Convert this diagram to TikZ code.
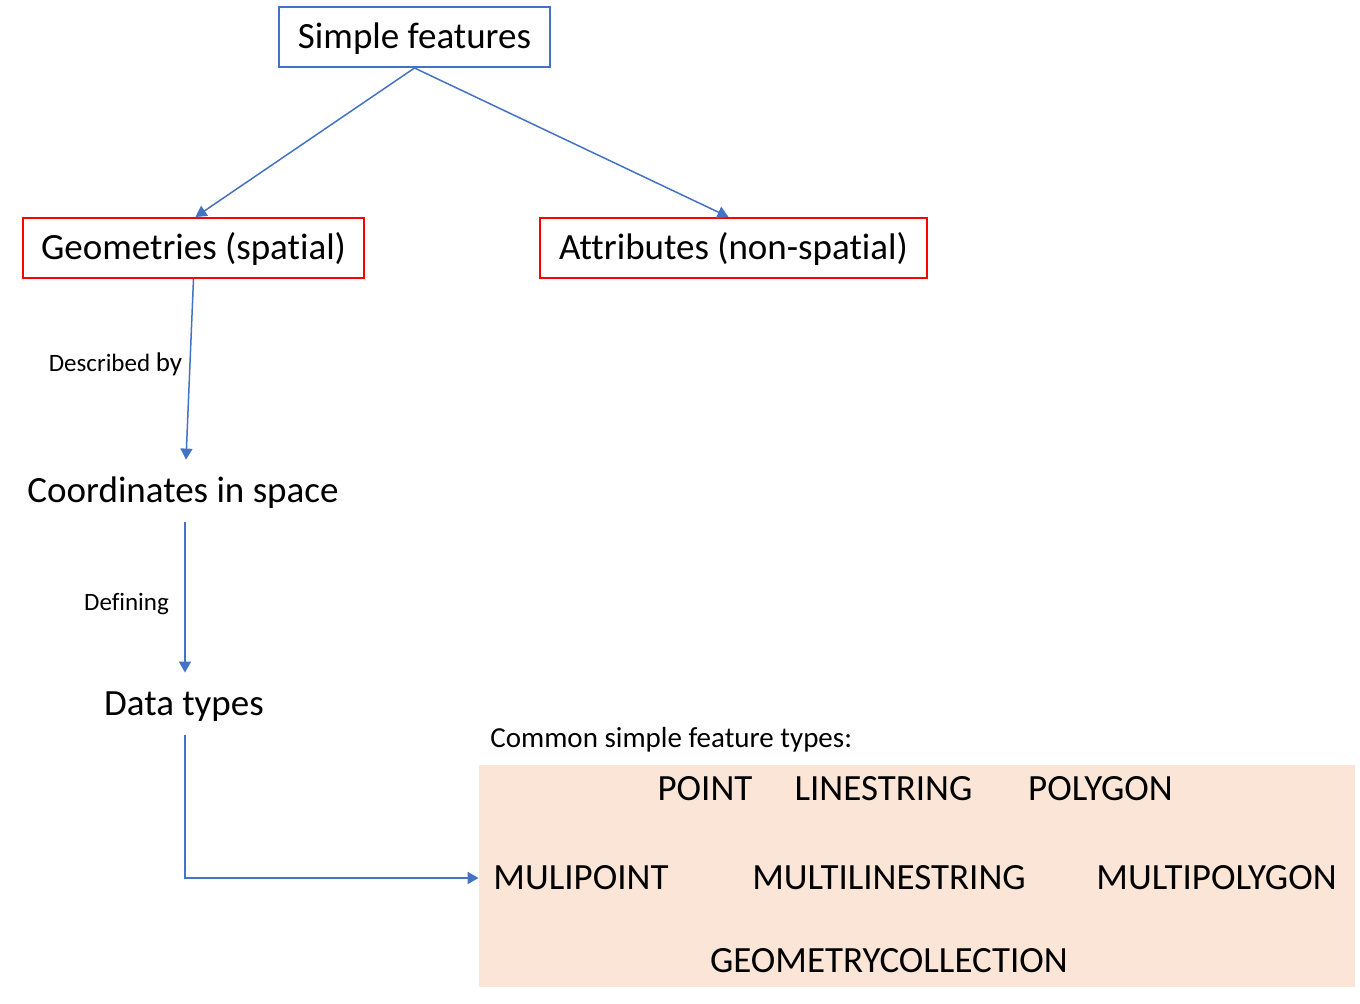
\documentclass[tikz,border=0pt]{standalone}
\usepackage{fontspec}
\setmainfont{Carlito}[Ligatures=NoCommon]
\usetikzlibrary{arrows.meta}
\definecolor{sfblue}{HTML}{4472C4}
\definecolor{sfred}{HTML}{FF0000}
\definecolor{sfpeach}{HTML}{FBE5D6}
\begin{document}
\begin{tikzpicture}[x=0.5pt,y=-0.5pt,
  big/.style={font=\fontsize{18.5}{22}\selectfont, text height=14pt, text depth=2.5pt, inner sep=0pt},
  small/.style={font=\fontsize{12.5}{15}\selectfont, text height=10pt, text depth=2pt, inner sep=0pt},
  box/.style={big, draw, line width=1pt, minimum height=30pt},
  plain/.style={big, minimum height=31pt},
  link/.style={draw=sfblue, line width=0.75pt, -{Triangle[length=5.5pt,width=6pt]}}]
\useasboundingbox (0,0) rectangle (1360,1004);

\node[box, draw=sfblue, minimum width=135.5pt] (simple) at (414.5,37) {Simple features};
\node[box, draw=sfred, minimum width=170.5pt] (geom) at (193.5,248) {Geometries (spatial)};
\node[box, draw=sfred, minimum width=193.5pt] (attr) at (733.5,248) {Attributes (non-spatial)};
\node[plain] (coords) at (183,491) {Coordinates in space};
\node[plain] (dtypes) at (184,704) {Data types};

\node[small] (described) at (115.5,364) {Described {\fontsize{13.5}{15}\selectfont by}};
\node[small] (defining) at (126.5,603) {Defining};

% feature types
\node[fill=sfpeach, minimum width=438pt, minimum height=111pt, inner sep=0pt] (types) at (917,876) {};
\node[font=\fontsize{14.5}{17}\selectfont, text height=11.5pt, text depth=2.2pt, inner sep=0pt, anchor=west] (common) at (490,738.5) {Common simple feature types:};
\node[big] (point) at (705,789) {POINT};
\node[big] (line) at (883.5,789) {LINESTRING};
\node[big] (poly) at (1100.5,789) {POLYGON};
\node[big] (mpoint) at (581,878) {MULIPOINT};
\node[big] (mline) at (889,878) {MULTILINESTRING};
\node[big] (mpoly) at (1216.5,878) {MULTIPOLYGON};
\node[big] (coll) at (889,961) {GEOMETRYCOLLECTION};

\path[link] (simple.south) -- ([xshift=1pt]geom.north);
\path[link] (simple.south) -- ([xshift=-2.5pt]attr.north);
\path[link] (geom.south) -- ([xshift=1.5pt]coords.north);
\path[link] ([xshift=1pt]coords.south) -- ([xshift=0.5pt]dtypes.north);
\path[link] ([xshift=0.5pt]dtypes.south) |- ([yshift=-1pt]types.west);
\end{tikzpicture}
\end{document}
